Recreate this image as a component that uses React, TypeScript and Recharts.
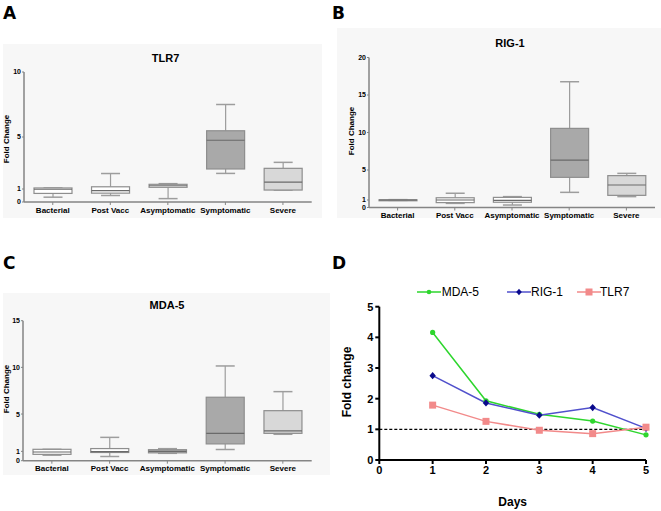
import React from 'react';
import { ComposedChart, Bar, XAxis, YAxis, LineChart, Line, ReferenceLine } from 'recharts';

const groups = ['Bacterial', 'Post Vacc', 'Asymptomatic', 'Symptomatic', 'Severe'];

// A - TLR7 box plot
const tlr7Min = [0.37, 0.5, 0.26, 2.2, 0.92];
const tlr7Q1 = [0.66, 0.68, 1.13, 2.54, 0.92];
const tlr7Med = [0.98, 0.87, 1.25, 4.75, 1.53];
const tlr7Q3 = [1.08, 1.17, 1.36, 5.48, 2.59];
const tlr7Max = [1.08, 2.19, 1.41, 7.5, 3.05];

// B - RIG-1 box plot
const rig1Min = [0.95, 0.55, 0.33, 2.02, 1.45];
const rig1Q1 = [0.97, 0.65, 0.7, 4.02, 1.62];
const rig1Med = [1.0, 1.0, 0.96, 6.33, 3.0];
const rig1Q3 = [1.03, 1.3, 1.35, 10.55, 4.25];
const rig1Max = [1.05, 1.9, 1.45, 16.77, 4.55];

// C - MDA-5 box plot
const mda5Min = [0.59, 0.45, 0.79, 1.2, 2.83];
const mda5Q1 = [0.68, 0.88, 0.84, 1.8, 2.93];
const mda5Med = [0.93, 0.98, 1.0, 2.93, 3.2];
const mda5Q3 = [1.22, 1.3, 1.18, 6.8, 5.36];
const mda5Max = [1.22, 2.5, 1.29, 10.15, 7.4];

// D - time course
const days = [1, 2, 3, 4, 5];
const mda5Fold = [4.16, 1.93, 1.49, 1.27, 0.82];
const rig1Fold = [2.75, 1.86, 1.46, 1.71, 1.03];
const tlr7Fold = [1.79, 1.26, 0.97, 0.86, 1.07];
const seriesNames = ['MDA-5', 'RIG-1', 'TLR7'];

const font = '"Liberation Sans", Arial, sans-serif';
const boxFills = ['#ffffff', '#ffffff', '#ffffff', '#a9a9a9', '#d8d8d8'];
const boxFillsC = ['#ffffff', '#ffffff', '#b4b4b4', '#a9a9a9', '#d8d8d8'];

function boxRows(min: number[], q1: number[], med: number[], q3: number[], max: number[]) {
  return groups.map((name, i) => ({
    name,
    range: [min[i], max[i]],
    min: min[i],
    q1: q1[i],
    median: med[i],
    q3: q3[i],
    max: max[i],
  }));
}

const makeBox = (fills: string[]) => (props: any) => {
  const { x, y, width, height, payload, index } = props;
  const top = Math.min(y, y + height);
  const h = Math.abs(height);
  const span = payload.max - payload.min || 1;
  const py = (v: number) => top + (h * (payload.max - v)) / span;
  const cx = x + width / 2;
  const cap = width / 4;
  const yMax = py(payload.max);
  const yQ3 = py(payload.q3);
  const yMed = py(payload.median);
  const yQ1 = py(payload.q1);
  const yMin = py(payload.min);
  const wc = '#9d9d9d';
  return (
    <g>
      <line x1={cx} x2={cx} y1={yMax} y2={yQ3} stroke={wc} strokeWidth={1.2} />
      <line x1={cx} x2={cx} y1={yQ1} y2={yMin} stroke={wc} strokeWidth={1.2} />
      <line x1={cx - cap} x2={cx + cap} y1={yMax} y2={yMax} stroke={wc} strokeWidth={1.5} />
      <line x1={cx - cap} x2={cx + cap} y1={yMin} y2={yMin} stroke={wc} strokeWidth={1.5} />
      <rect x={x} y={yQ3} width={width} height={Math.max(yQ1 - yQ3, 1)} fill={fills[index]} stroke="#8e8e8e" strokeWidth={1.2} />
      <line x1={x} x2={x + width} y1={yMed} y2={yMed} stroke="#6a6a6a" strokeWidth={1.2} />
    </g>
  );
};

const Txt = ({ x, y, size, weight = 'bold', rotate = false, family = font, children }: any) => (
  <div
    style={{
      position: 'absolute',
      left: x,
      top: y,
      transform: `translate(-50%, -50%)${rotate ? ' rotate(-90deg)' : ''}`,
      fontFamily: family,
      fontSize: size,
      fontWeight: weight,
      lineHeight: 1,
      whiteSpace: 'nowrap',
      color: '#000',
    }}
  >
    {children}
  </div>
);

const Letter = ({ x, y, children }: any) => (
  <div
    style={{
      position: 'absolute',
      left: x,
      top: y,
      fontFamily: '"DejaVu Sans", sans-serif',
      fontWeight: 'bold',
      fontSize: 17,
      lineHeight: 1,
      color: '#000',
    }}
  >
    {children}
  </div>
);

const smallTick = { fill: '#000', fontSize: 8, fontWeight: 'bold', fontFamily: font };
const yTick = { fill: '#000', fontSize: 7, fontWeight: 'bold', fontFamily: font };
const grayAxis = { stroke: '#858585', strokeWidth: 1.5 };

const BoxPanel = ({ rows, fills, domain, ticks, left, top, width, height, margin, yWidth, xHeight }: any) => (
  <div style={{ position: 'absolute', left, top, width, height }}>
    <ComposedChart width={width} height={height} data={rows} margin={margin}>
      <XAxis
        dataKey="name"
        type="category"
        interval={0}
        height={xHeight}
        tick={smallTick}
        tickSize={3}
        axisLine={grayAxis}
        tickLine={{ stroke: '#858585' }}
      />
      <YAxis
        type="number"
        domain={domain}
        ticks={ticks}
        interval={0}
        width={yWidth}
        tick={yTick}
        tickSize={2}
        tickMargin={1}
        axisLine={grayAxis}
        tickLine={{ stroke: '#858585' }}
      />
      <Bar dataKey="range" barSize={38} shape={makeBox(fills)} isAnimationActive={false} />
    </ComposedChart>
  </div>
);

const lineRows = days.map((day, i) => ({ day, mda5: mda5Fold[i], rig1: rig1Fold[i], tlr7: tlr7Fold[i] }));

const greenDot = (p: any) => <circle key={`g${p.index}`} cx={p.cx} cy={p.cy} r={2.6} fill="#2ed62e" />;
const diamondDot = (p: any) => (
  <polygon
    key={`d${p.index}`}
    points={`${p.cx},${p.cy - 3.6} ${p.cx + 3.2},${p.cy} ${p.cx},${p.cy + 3.6} ${p.cx - 3.2},${p.cy}`}
    fill="#0a0a8c"
  />
);
const squareDot = (p: any) => <rect key={`s${p.index}`} x={p.cx - 3.5} y={p.cy - 3.5} width={7} height={7} fill="#f28a8a" />;

const legendItems = [
  { name: seriesNames[0], line: '#2ed62e', left: 417, text: 441.7, mark: 'circle', dot: '#2ed62e' },
  { name: seriesNames[1], line: '#5050cc', left: 507, text: 531, mark: 'diamond', dot: '#0a0a8c' },
  { name: seriesNames[2], line: '#f28a8a', left: 577, text: 600, mark: 'square', dot: '#f28a8a' },
];

const axisBlack = { stroke: '#000', strokeWidth: 2 };
const bigTick = { fill: '#000', fontSize: 11, fontWeight: 'bold', fontFamily: font };

export default function App() {
  return (
    <div style={{ position: 'absolute', left: 0, top: 0, width: 661, height: 511, background: '#fff', overflow: 'hidden' }}>
      {/* panel backgrounds */}
      <div style={{ position: 'absolute', left: 3, top: 44, width: 319, height: 174, background: '#f7f7f7' }} />
      <div style={{ position: 'absolute', left: 337, top: 28, width: 324, height: 190, background: '#f7f7f7' }} />
      <div style={{ position: 'absolute', left: 3, top: 293, width: 327, height: 182, background: '#f7f7f7' }} />

      <BoxPanel
        rows={boxRows(tlr7Min, tlr7Q1, tlr7Med, tlr7Q3, tlr7Max)}
        fills={boxFills}
        domain={[0, 10]}
        ticks={[0, 1, 5, 10]}
        left={3}
        top={44}
        width={319}
        height={190}
        margin={{ top: 28, right: 10.3, left: 5, bottom: 2 }}
        yWidth={16}
        xHeight={30}
      />
      <BoxPanel
        rows={boxRows(rig1Min, rig1Q1, rig1Med, rig1Q3, rig1Max)}
        fills={boxFills}
        domain={[0, 20]}
        ticks={[0, 1, 5, 10, 15, 20]}
        left={337}
        top={28}
        width={324}
        height={200}
        margin={{ top: 29.5, right: 6, left: 12, bottom: 0 }}
        yWidth={20}
        xHeight={20.5}
      />
      <BoxPanel
        rows={boxRows(mda5Min, mda5Q1, mda5Med, mda5Q3, mda5Max)}
        fills={boxFillsC}
        domain={[0, 15]}
        ticks={[0, 1, 5, 10, 15]}
        left={3}
        top={293}
        width={327}
        height={200}
        margin={{ top: 27.7, right: 18.3, left: 4, bottom: 0 }}
        yWidth={16}
        xHeight={32.3}
      />

      <Letter x={3} y={5}>A</Letter>
      <Letter x={332} y={5}>B</Letter>
      <Letter x={3} y={254.5}>C</Letter>
      <Letter x={332} y={254.5}>D</Letter>

      <Txt x={165.5} y={57.5} size={11}>TLR7</Txt>
      <Txt x={510} y={43} size={11}>RIG-1</Txt>
      <Txt x={167} y={305} size={11}>MDA-5</Txt>

      <Txt x={6.5} y={138.7} size={8} rotate>Fold Change</Txt>
      <Txt x={352.2} y={130.8} size={8} rotate>Fold Change</Txt>
      <Txt x={6.5} y={389} size={8} rotate>Fold Change</Txt>

      {/* D - line chart */}
      <div style={{ position: 'absolute', left: 330, top: 280, width: 331, height: 231 }}>
        <LineChart width={331} height={231} data={lineRows} margin={{ top: 26.7, right: 15, left: 19.3, bottom: 0 }}>
          <XAxis
            dataKey="day"
            type="number"
            domain={[0, 5]}
            ticks={[0, 1, 2, 3, 4, 5]}
            interval={0}
            height={51}
            tick={bigTick}
            tickSize={4}
            axisLine={axisBlack}
            tickLine={axisBlack}
          />
          <YAxis
            type="number"
            domain={[0, 5]}
            ticks={[0, 1, 2, 3, 4, 5]}
            interval={0}
            width={30}
            tick={bigTick}
            tickSize={4}
            axisLine={axisBlack}
            tickLine={axisBlack}
          />
          <ReferenceLine y={1} stroke="#000" strokeWidth={1.3} strokeDasharray="3 2" />
          <Line dataKey="mda5" name={seriesNames[0]} stroke="#2ed62e" strokeWidth={1.5} dot={greenDot} isAnimationActive={false} />
          <Line dataKey="rig1" name={seriesNames[1]} stroke="#5050cc" strokeWidth={1.5} dot={diamondDot} isAnimationActive={false} />
          <Line dataKey="tlr7" name={seriesNames[2]} stroke="#f28a8a" strokeWidth={1.5} dot={squareDot} isAnimationActive={false} />
        </LineChart>
      </div>

      {legendItems.map((it) => (
        <React.Fragment key={it.name}>
          <svg style={{ position: 'absolute', left: it.left, top: 286.7 }} width={24} height={10}>
            <line x1={0} x2={24} y1={5} y2={5} stroke={it.line} strokeWidth={1.5} />
            {it.mark === 'circle' && <circle cx={12} cy={5} r={2.3} fill={it.dot} />}
            {it.mark === 'diamond' && <polygon points="12,1.8 14.8,5 12,8.2 9.2,5" fill={it.dot} />}
            {it.mark === 'square' && <rect x={8.5} y={1.5} width={7} height={7} fill={it.dot} />}
          </svg>
          <div
            style={{
              position: 'absolute',
              left: it.text,
              top: 291.7,
              transform: 'translateY(-50%)',
              fontFamily: font,
              fontSize: 12,
              lineHeight: 1,
              whiteSpace: 'nowrap',
            }}
          >
            {it.name}
          </div>
        </React.Fragment>
      ))}

      <Txt x={346.7} y={382} size={12} rotate>Fold change</Txt>
      <Txt x={512.7} y={501.7} size={12}>Days</Txt>
    </div>
  );
}
